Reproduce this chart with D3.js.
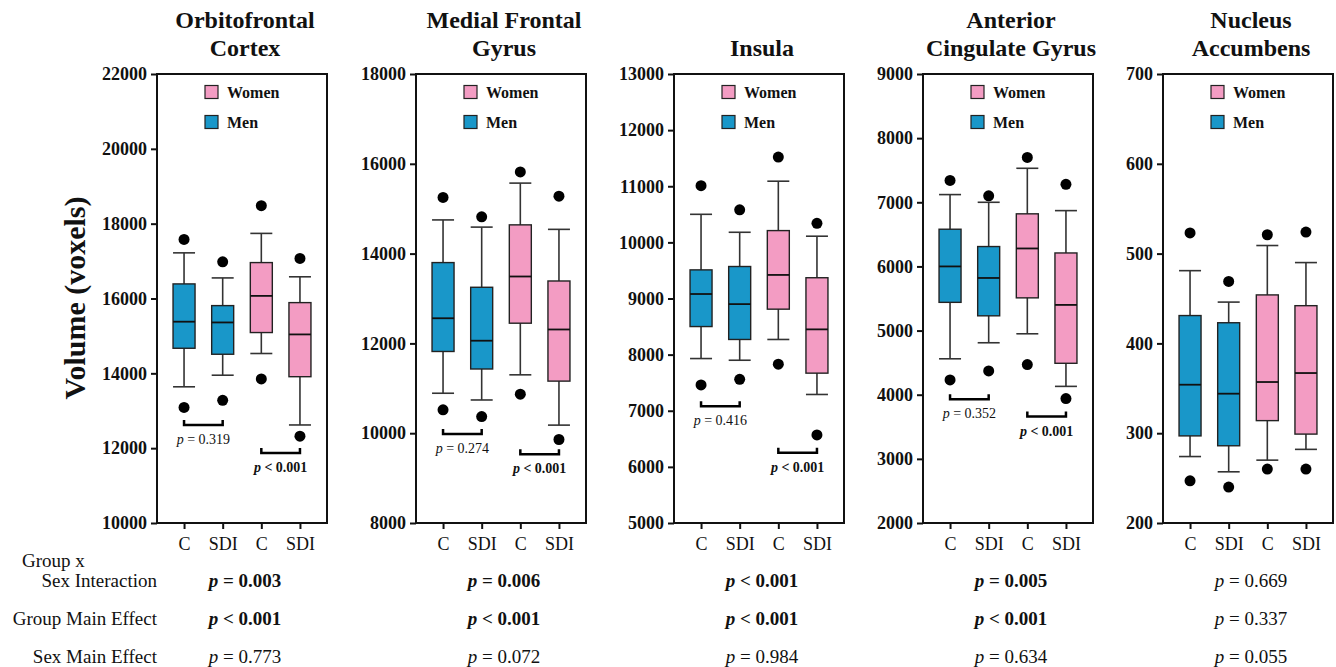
<!DOCTYPE html>
<html>
<head>
<meta charset="utf-8">
<script src="https://cdn.jsdelivr.net/npm/d3@7"></script>
<style>
	body { margin: 0; background: #fff; }
	svg { display: block; font-family: "Liberation Serif", "Times New Roman", serif; }
</style>
</head>
<body>
<svg width="1336" height="667"></svg>
<script>
// region titles (one entry per line)
const titles = [
	["Orbitofrontal", "Cortex"],
	["Medial Frontal", "Gyrus"],
	["Insula"],
	["Anterior", "Cingulate Gyrus"],
	["Nucleus", "Accumbens"],
];
const groups = ["C", "SDI", "C", "SDI"];
const sexes = ["Men", "Men", "Women", "Women"];
const legendItems = ["Women", "Men"];

const yDomains = [[10000, 22000], [8000, 18000], [5000, 13000], [2000, 9000], [200, 700]];
const yTickSteps = [2000, 2000, 1000, 1000, 100];

// [lower whisker, q1, median, q3, upper whisker]
const ofcBoxes = [[13640, 14670, 15380, 16390, 17220], [13950, 14510, 15360, 15810, 16550], [14530, 15090, 16070, 16960, 17740], [12620, 13910, 15040, 15890, 16580]];
const mfgBoxes = [[10890, 11820, 12560, 13800, 14750], [10740, 11430, 12060, 13250, 14590], [11300, 12450, 13490, 14640, 15570], [10180, 11160, 12310, 13390, 14540]];
const insBoxes = [[7930, 8500, 9080, 9510, 10500], [7900, 8270, 8900, 9570, 10180], [8270, 8810, 9420, 10210, 11090], [7290, 7670, 8450, 9370, 10110]];
const acgBoxes = [[4560, 5440, 6000, 6580, 7120], [4810, 5230, 5820, 6310, 7000], [4950, 5510, 6280, 6820, 7530], [4130, 4490, 5400, 6210, 6870]];
const naccBoxes = [[274, 297, 354, 431, 481], [257, 286, 344, 423, 446], [270, 314, 357, 454, 509], [282, 299, 367, 442, 490]];

// [low outlier, high outlier]
const ofcOutliers = [[13090, 17580], [13280, 16980], [13850, 18480], [12320, 17070]];
const mfgOutliers = [[10520, 15250], [10370, 14820], [10870, 15820], [9860, 15280]];
const insOutliers = [[7460, 11010], [7560, 10580], [7830, 11520], [6570, 10340]];
const acgOutliers = [[4230, 7340], [4370, 7100], [4470, 7700], [3940, 7280]];
const naccOutliers = [[247, 523], [240, 469], [260, 521], [260, 524]];

// group comparison brackets within sex: [men C vs SDI, women C vs SDI]
const bracketLevels = [[12620, 11870], [9980, 9530], [7080, 6250], [3930, 3660], []];
const bracketLabels = [["p = 0.319", "p < 0.001"], ["p = 0.274", "p < 0.001"], ["p = 0.416", "p < 0.001"], ["p = 0.352", "p < 0.001"], []];

const effectNames = ["Sex Interaction", "Group Main Effect", "Sex Main Effect"];
const interactionP = ["p = 0.003", "p = 0.006", "p < 0.001", "p = 0.005", "p = 0.669"];
const groupMainP = ["p < 0.001", "p < 0.001", "p < 0.001", "p < 0.001", "p = 0.337"];
const sexMainP = ["p = 0.773", "p = 0.072", "p = 0.984", "p = 0.634", "p = 0.055"];

const allBoxes = [ofcBoxes, mfgBoxes, insBoxes, acgBoxes, naccBoxes];
const allOutliers = [ofcOutliers, mfgOutliers, insOutliers, acgOutliers, naccOutliers];

const colours = { Men: "#1997c9", Women: "#f39cc3" };
const ink = "#111";

const svg = d3.select("svg");
const panelLeft = [157, 416, 674, 923, 1163];
const panelW = 170;
const plotTop = 74, plotBottom = 523;
const boxW = 22;

// draws the "p = 0.003" style text with italic p
const pText = (sel, str, bold) => {
	let rest = str.slice(1);
	sel.attr("font-weight", bold ? "bold" : "normal");
	sel.append("tspan").attr("font-style", "italic").text("p");
	sel.append("tspan").text(rest);
};

titles.forEach((title, i) => {
	let g = svg.append("g").attr("transform", "translate(" + panelLeft[i] + ",0)");
	let x = d3.scalePoint().domain(d3.range(4)).range([0, panelW]).padding(0.7);
	let y = d3.scaleLinear().domain(yDomains[i]).range([plotBottom, plotTop]);
	let ticks = d3.range(yDomains[i][0], yDomains[i][1] + 1, yTickSteps[i]);

	// title
	let t = g.append("text")
		.attr("text-anchor", "middle")
		.attr("font-size", "24px")
		.attr("font-weight", "bold")
		.attr("fill", ink);
	title.forEach((line, k) => {
		t.append("tspan")
			.attr("x", panelW / 2 + 3)
			.attr("y", 56 - (title.length - 1 - k) * 28)
			.text(line);
	});

	// axes
	let ya = g.append("g")
		.call(d3.axisLeft(y).tickValues(ticks).tickSize(6).tickPadding(4).tickFormat(d3.format("d")));
	ya.select(".domain").remove();
	ya.selectAll(".tick line").attr("stroke", ink).attr("stroke-width", 2);
	ya.selectAll(".tick text")
		.attr("font-family", "Liberation Serif, serif")
		.attr("font-size", "18px")
		.attr("font-weight", "bold")
		.attr("fill", ink);

	let xa = g.append("g")
		.attr("transform", "translate(0," + plotBottom + ")")
		.call(d3.axisBottom(x).tickSize(6).tickPadding(8).tickFormat((d) => groups[d]));
	xa.select(".domain").remove();
	xa.selectAll(".tick line").attr("stroke", ink).attr("stroke-width", 2);
	xa.selectAll(".tick text")
		.attr("font-family", "Liberation Serif, serif")
		.attr("font-size", "18px")
		.attr("fill", ink);

	// frame
	g.append("rect")
		.attr("x", 0)
		.attr("y", plotTop)
		.attr("width", panelW)
		.attr("height", plotBottom - plotTop)
		.attr("fill", "none")
		.attr("stroke", ink)
		.attr("stroke-width", 2);

	// boxes
	allBoxes[i].forEach((b, j) => {
		let cx = x(j);
		let bg = g.append("g");
		bg.append("line")
			.attr("x1", cx).attr("x2", cx)
			.attr("y1", y(b[0])).attr("y2", y(b[4]))
			.attr("stroke", "#333").attr("stroke-width", 1.6);
		[b[0], b[4]].forEach((v) => {
			bg.append("line")
				.attr("x1", cx - boxW / 2).attr("x2", cx + boxW / 2)
				.attr("y1", y(v)).attr("y2", y(v))
				.attr("stroke", "#333").attr("stroke-width", 1.6);
		});
		bg.append("rect")
			.attr("x", cx - boxW / 2)
			.attr("y", y(b[3]))
			.attr("width", boxW)
			.attr("height", y(b[1]) - y(b[3]))
			.attr("fill", colours[sexes[j]])
			.attr("stroke", "#222")
			.attr("stroke-width", 1.4);
		bg.append("line")
			.attr("x1", cx - boxW / 2).attr("x2", cx + boxW / 2)
			.attr("y1", y(b[2])).attr("y2", y(b[2]))
			.attr("stroke", "#111").attr("stroke-width", 1.8);
		allOutliers[i][j].forEach((v) => {
			bg.append("circle")
				.attr("cx", cx).attr("cy", y(v)).attr("r", 5.5)
				.attr("fill", "#000");
		});
	});

	// brackets
	bracketLevels[i].forEach((v, k) => {
		let x1 = x(k * 2), x2 = x(k * 2 + 1);
		let by = y(v);
		g.append("path")
			.attr("d", "M" + x1 + "," + (by - 5) + "V" + by + "H" + x2 + "V" + (by - 5))
			.attr("fill", "none")
			.attr("stroke", "#000")
			.attr("stroke-width", 2.5);
		g.append("text")
			.attr("x", (x1 + x2) / 2)
			.attr("y", by + 19)
			.attr("text-anchor", "middle")
			.attr("font-size", "14px")
			.attr("fill", ink)
			.call(pText, bracketLabels[i][k], k === 1);
	});

	// legend
	legendItems.forEach((name, k) => {
		let ly = 92 + k * 30;
		g.append("rect")
			.attr("x", 48).attr("y", ly - 6.5)
			.attr("width", 13).attr("height", 13)
			.attr("fill", colours[name])
			.attr("stroke", "#222").attr("stroke-width", 1.2);
		g.append("text")
			.attr("x", 70).attr("y", ly + 5.5)
			.attr("font-size", "16px")
			.attr("font-weight", "bold")
			.attr("fill", ink)
			.text(name);
	});

	// effect p values underneath
	[interactionP, groupMainP, sexMainP].forEach((row, r) => {
		let str = row[i];
		let sig = str.includes("<") || parseFloat(str.split(" ").pop()) < 0.05;
		g.append("text")
			.attr("x", panelW / 2 + 3)
			.attr("y", 587 + r * 38)
			.attr("text-anchor", "middle")
			.attr("font-size", "19px")
			.attr("fill", ink)
			.call(pText, str, sig);
	});
});

// y label
svg.append("text")
	.attr("transform", "translate(85,298) rotate(-90)")
	.attr("text-anchor", "middle")
	.attr("font-size", "30px")
	.attr("font-weight", "bold")
	.attr("fill", ink)
	.text("Volume (voxels)");

// effect row labels
svg.append("text")
	.attr("x", 22).attr("y", 567)
	.attr("font-size", "19px")
	.attr("fill", ink)
	.text("Group x");
effectNames.forEach((name, r) => {
	svg.append("text")
		.attr("x", 157).attr("y", 587 + r * 38)
		.attr("text-anchor", "end")
		.attr("font-size", "19px")
		.attr("fill", ink)
		.text(name);
});
</script>
</body>
</html>
